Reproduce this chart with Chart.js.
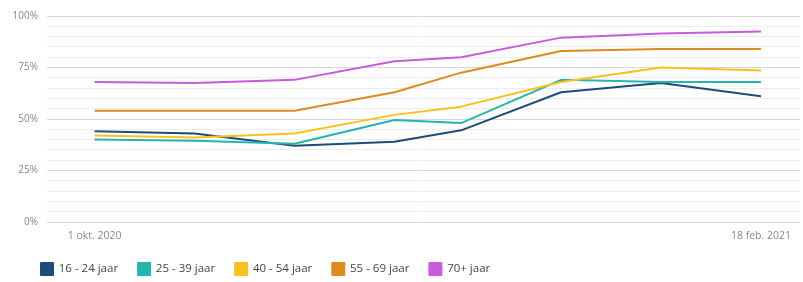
<!DOCTYPE html>
<html lang="nl">
<head>
    <meta charset="UTF-8">
    <title>Vaccinatiebereidheid per leeftijd</title>
    <script src="https://cdn.jsdelivr.net/npm/chart.js"></script>
    <style>
        html, body { margin: 0; padding: 0; background: #fff; }
        #wrap { width: 803px; height: 282px; }
    </style>
</head>
<body>
    <div id="wrap"><canvas id="ageChart"></canvas></div>

    <script>
        // days since 1 okt. 2020
        const dayOffsets = [0, 21, 42, 63, 77, 98, 119, 140];
        const tickDays = [0, 140];
        const tickLabels = ['1 okt. 2020', '18 feb. 2021'];

        const seriesNames = ['16 - 24 jaar', '25 - 39 jaar', '40 - 54 jaar', '55 - 69 jaar', '70+ jaar'];
        const age16to24 = [44, 43, 37, 39, 44.5, 63, 67.5, 61];
        const age25to39 = [40, 39.5, 38, 49.5, 48, 69, 68, 68];
        const age40to54 = [42, 41, 43, 52, 56, 68, 75, 73.5];
        const age55to69 = [54, 54, 54, 63, 72.5, 83, 84, 84];
        const age70plus = [68, 67.5, 69, 78, 80, 89.5, 91.5, 92.5];

        const colors = ['#1d4b7a', '#23b5ae', '#f7c21c', '#df8a1c', '#c65bdb'];
        const allSeries = [age16to24, age25to39, age40to54, age55to69, age70plus];

        const datasets = allSeries.map((vals, i) => ({
            label: seriesNames[i],
            data: vals.map((v, j) => ({ x: dayOffsets[j], y: v })),
            borderColor: colors[i],
            backgroundColor: colors[i],
            borderWidth: 2,
            pointRadius: 0,
            tension: 0,
            borderJoinStyle: 'round'
        }));

        // put the legend where the original has it (below the axis, slightly indented)
        const legendPlace = {
            id: 'legendPlace',
            afterLayout(chart) {
                chart.legend.left = 21;
                chart.legend.top = 243;
            }
        };

        const ctx = document.getElementById('ageChart').getContext('2d');
        new Chart(ctx, {
            type: 'line',
            data: { datasets: datasets.reverse() },
            plugins: [legendPlace],
            options: {
                responsive: true,
                maintainAspectRatio: false,
                animation: false,
                layout: { padding: { top: 16, right: 3, left: 0, bottom: 0 } },
                scales: {
                    x: {
                        type: 'linear',
                        min: -10,
                        max: 148.2,
                        grid: { display: false },
                        border: { display: false },
                        afterFit: axis => { axis.height = 18; },
                        afterBuildTicks: axis => {
                            axis.ticks = tickDays.map(d => ({ value: d }));
                        },
                        ticks: {
                            autoSkip: false,
                            maxRotation: 0,
                            color: '#888',
                            font: { family: 'Open Sans', size: 10.5 },
                            padding: 0,
                            callback: v => tickLabels[tickDays.indexOf(v)]
                        }
                    },
                    y: {
                        min: 0,
                        max: 100,
                        afterFit: axis => { axis.width = 47; },
                        border: { display: false },
                        grid: {
                            drawTicks: false,
                            color: c => (c.tick.value % 25 === 0 ? '#d8d8d8' : '#ececec'),
                            lineWidth: 1
                        },
                        ticks: {
                            stepSize: 5,
                            autoSkip: false,
                            color: '#888',
                            padding: 9,
                            font: { family: 'Open Sans', size: 10 },
                            callback: v => (v % 25 === 0 ? v + '%' : '')
                        }
                    }
                },
                plugins: {
                    legend: {
                        position: 'bottom',
                        align: 'start',
                        reverse: true,
                        labels: {
                            boxWidth: 12,
                            boxHeight: 12,
                            padding: 20,
                            color: '#444',
                            font: { family: 'Open Sans', size: 11.5 }
                        }
                    },
                    tooltip: { enabled: false }
                }
            }
        });
    </script>
</body>
</html>
